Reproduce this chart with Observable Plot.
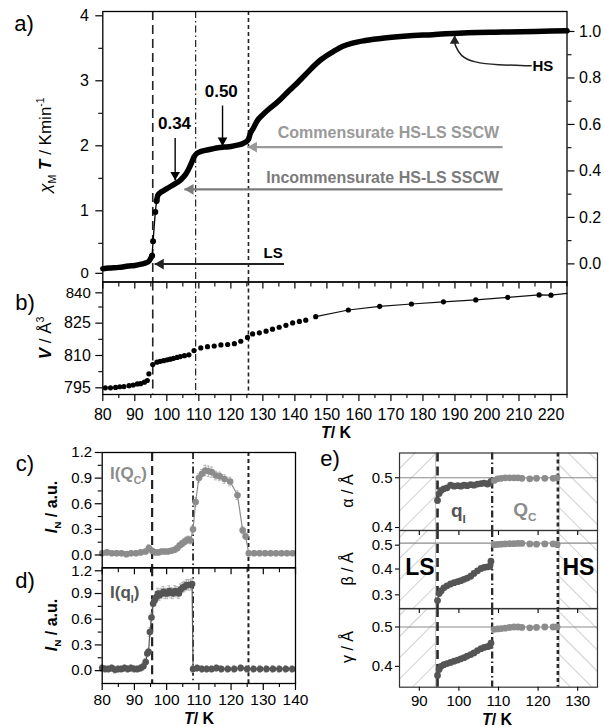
<!DOCTYPE html>
<html><head><meta charset="utf-8">
<script src="https://cdn.jsdelivr.net/npm/d3@7"></script>
<script src="https://cdn.jsdelivr.net/npm/@observablehq/plot@0.6"></script>
<style>
body{margin:0;background:#fff;}
#fig{position:relative;width:604px;height:727px;overflow:hidden;font-family:"Liberation Sans",Arial,sans-serif;}
#fig svg{position:absolute;overflow:visible;}
</style></head><body><div id="fig"></div>
<script>
// ================= DATA =================
// a) chi_M T vs T
const chiLowT = [80, 82, 85, 88, 90, 92, 93.5, 94.5, 95.4];
const chiLowV = [0.11, 0.12, 0.13, 0.15, 0.16, 0.18, 0.20, 0.23, 0.31];
const chiJumpT = [95.4, 95.7, 96.4, 96.8];
const chiJumpV = [0.31, 0.53, 0.98, 1.15];
const chiHighT = [96.8, 97.2, 98, 99, 100, 101, 102, 103, 104, 105, 106, 107, 107.8, 108.5, 109.3, 110.5, 112, 114, 116, 118, 120, 122, 123.5, 124.7, 125.5, 126, 127, 128.3, 130, 132, 134, 135.6, 138, 140, 141.8, 144, 146, 148, 150, 152, 155, 158, 162, 168, 175, 183, 194, 205, 215, 225];
const chiHighV = [1.15, 1.24, 1.28, 1.31, 1.34, 1.37, 1.40, 1.43, 1.46, 1.51, 1.57, 1.66, 1.75, 1.83, 1.88, 1.91, 1.93, 1.95, 1.97, 1.98, 1.99, 2.01, 2.03, 2.06, 2.10, 2.18, 2.27, 2.39, 2.48, 2.57, 2.65, 2.72, 2.84, 2.93, 3.02, 3.13, 3.23, 3.32, 3.39, 3.45, 3.53, 3.58, 3.62, 3.66, 3.69, 3.71, 3.74, 3.75, 3.76, 3.77];
const chiTicks = [1, 2, 3, 4];
const chiZero = [0];
const chiMinor = [0.5, 1.5, 2.5, 3.5];
const fracTicks = [0, 0.2, 0.4, 0.6, 0.8, 1.0];
const fracMinor = [0.1, 0.3, 0.5, 0.7, 0.9];

// annotations of a)
const arrowLabels = ["0.34", "0.50"];
const arrowLabelT = [102.4, 117.0];
const arrowLabelV = [2.34, 2.83];
const arrowT = [102.6, 117.4];
const arrowFromV = [2.12, 2.62];
const arrowTipV = [1.47, 2.0];
const sscwLabels = ["Commensurate HS-LS SSCW", "Incommensurate HS-LS SSCW"];
const sscwLabelEndT = [203.8, 203.8];
const sscwLabelV = [2.20, 1.50];
const sscwLineV = [1.98, 1.33];
const sscwStartT = [204.9, 204.9];
const sscwTipT = [125.3, 105.5];
const sscwColors = ["#999999", "#7b7b7b"];
const lsLabel = ["LS"], lsLabelT = [133.2], lsLabelV = [0.35];
const lsLineV = [0.18], lsStartT = [136.6], lsTipT = [96.2];
const hsLabel = ["HS"], hsLabelT = [214.2], hsLabelV = [3.22];
const hsPathT = [213.8, 203, 196, 191.6, 190.1];
const hsPathV = [3.23, 3.245, 3.28, 3.38, 3.55];
const hsTipT = [189.9], hsTipV = [3.69];

// transition temperatures (vertical lines)
const transAB = [95.6, 109.0, 125.5];
const transCD = [95.5, 108.2, 125.4];
const transE = [94.6, 108.4, 125.0];

// b) volume
const volT = [80.8, 82.4, 84.0, 85.3, 86.6, 88.2, 89.5, 90.8, 91.8, 93.0, 93.9, 94.4, 95.6, 96.9, 97.9, 99.0, 100.1, 101.1, 102.1, 103.2, 104.2, 105.5, 106.9, 108.5, 110.6, 112.7, 114.8, 116.9, 119.0, 121.1, 123.1, 125.2, 126.8, 128.9, 131.0, 133.0, 135.1, 137.2, 139.3, 141.4, 143.4, 146.5, 156.7, 166.5, 176.4, 186.4, 196.5, 206.5, 216.3, 220.0];
const volV = [795.0, 795.0, 795.2, 795.5, 795.6, 796.0, 796.3, 796.8, 796.9, 797.6, 798.4, 801.5, 805.8, 806.9, 807.3, 807.6, 808.0, 808.3, 808.7, 809.1, 809.5, 809.9, 810.3, 812.3, 813.5, 814.1, 814.4, 814.9, 815.1, 815.5, 816.6, 818.4, 820.0, 820.5, 821.3, 822.2, 823.1, 824.0, 825.1, 825.8, 826.4, 828.0, 831.1, 832.8, 833.9, 834.9, 835.8, 837.0, 838.1, 838.0];
const volLineT = [146.5, 156.7, 166.5, 176.4, 186.4, 196.5, 206.5, 216.3, 220.0, 225];
const volLineV = [828.0, 831.1, 832.8, 833.9, 834.9, 835.8, 837.0, 838.1, 838.0, 838.8];
const volTicks = [795, 810, 825];
const volTop = [840];
const volMinor = [802.5, 817.5, 832.5];
const tTicksAB = [80, 90, 100, 110, 120, 130, 140, 150, 160, 170, 180, 190, 200, 210, 220];
const tMinorAB = [85, 95, 105, 115, 125, 135, 145, 155, 165, 175, 185, 195, 205, 215, 225];

// c) I(Qc)
const cT = [80, 81.5, 83, 84.5, 86, 87.5, 89, 90.5, 92, 93.5, 94.5, 95.5, 96.5, 97.5, 98.5, 99.5, 100.5, 101.5, 102.5, 103.3, 104.0, 104.7, 105.4, 106.1, 106.8, 107.4, 108.2, 109.0, 110.0, 111.0, 112.0, 113.0, 114.0, 115.3, 116.5, 118.0, 119.7, 122.0, 123.6, 124.5, 125.5, 127.2, 128.9, 130.6, 132.3, 134.0, 135.7, 137.4, 139.1];
const cI = [0.02, 0.03, 0.02, 0.02, 0.02, 0.01, 0.02, 0.02, 0.03, 0.04, 0.08, 0.05, 0.03, 0.03, 0.04, 0.04, 0.04, 0.05, 0.06, 0.08, 0.11, 0.13, 0.15, 0.17, 0.18, 0.17, 0.30, 0.62, 0.90, 0.95, 0.99, 0.98, 0.97, 0.93, 0.92, 0.89, 0.86, 0.70, 0.29, 0.22, 0.02, 0.02, 0.02, 0.02, 0.02, 0.02, 0.02, 0.02, 0.02];
const cErr = [0.03, 0.03, 0.03, 0.03, 0.03, 0.03, 0.03, 0.03, 0.03, 0.03, 0.04, 0.03, 0.03, 0.03, 0.03, 0.03, 0.03, 0.03, 0.03, 0.03, 0.03, 0.04, 0.04, 0.04, 0.04, 0.04, 0.04, 0.05, 0.05, 0.05, 0.06, 0.06, 0.06, 0.05, 0.05, 0.05, 0.05, 0.05, 0.04, 0.04, 0.03, 0.03, 0.03, 0.03, 0.03, 0.03, 0.03, 0.03, 0.03];
// d) I(qI)
const dT = [80, 81, 82, 83, 84, 85, 86, 87, 88, 89, 90, 91, 92, 92.8, 93.5, 94.0, 94.4, 94.8, 95.3, 95.8, 96.3, 96.8, 97.3, 97.8, 98.4, 99.0, 99.6, 100.2, 100.8, 101.4, 102.0, 102.6, 103.2, 103.8, 104.4, 105.0, 105.6, 106.2, 106.8, 107.4, 107.9, 108.2, 109.5, 111.0, 112.5, 114.0, 115.5, 117.0, 119.0, 121.0, 123.0, 125.0, 127.0, 129.0, 131.0, 133.0, 135.0, 137.0, 139.0];
const dI = [0.03, 0.02, 0.02, 0.03, 0.01, 0.02, 0.02, 0.03, 0.02, 0.03, 0.02, 0.02, 0.03, 0.05, 0.10, 0.20, 0.22, 0.45, 0.62, 0.78, 0.82, 0.86, 0.90, 0.88, 0.90, 0.92, 0.90, 0.90, 0.93, 0.91, 0.90, 0.93, 0.92, 0.90, 0.95, 0.97, 0.98, 1.00, 1.00, 1.00, 1.01, 0.02, 0.03, 0.02, 0.02, 0.02, 0.03, 0.02, 0.02, 0.02, 0.03, 0.02, 0.02, 0.02, 0.02, 0.02, 0.02, 0.02, 0.02];
const dErr = [0.04, 0.04, 0.04, 0.04, 0.04, 0.04, 0.04, 0.04, 0.04, 0.04, 0.04, 0.04, 0.04, 0.04, 0.04, 0.04, 0.04, 0.05, 0.05, 0.05, 0.05, 0.06, 0.06, 0.06, 0.06, 0.06, 0.06, 0.06, 0.06, 0.06, 0.06, 0.06, 0.06, 0.06, 0.06, 0.06, 0.06, 0.06, 0.06, 0.06, 0.06, 0.04, 0.04, 0.04, 0.04, 0.04, 0.04, 0.04, 0.04, 0.04, 0.04, 0.04, 0.04, 0.04, 0.04, 0.04, 0.04, 0.04, 0.04];
const iTicks = [0, 0.3, 0.6, 0.9];
const iTop = [1.2];
const iMinor = [0.15, 0.45, 0.75, 1.05];
const tTicksCD = [80, 90, 100, 110, 120, 130, 140];
const tMinorCD = [85, 95, 105, 115, 125, 135];

// e) modulation components
const qT = [94.6, 95.0, 95.5, 96.2, 97.0, 97.9, 98.8, 99.7, 100.5, 101.3, 102.1, 103.0, 103.8, 104.7, 105.6, 106.4, 107.2, 107.8, 108.1];
const alphaQ = [0.457, 0.470, 0.476, 0.479, 0.481, 0.486, 0.484, 0.485, 0.484, 0.486, 0.485, 0.487, 0.486, 0.488, 0.489, 0.490, 0.488, 0.490, 0.493];
const betaQ = [0.278, 0.305, 0.315, 0.327, 0.335, 0.342, 0.347, 0.351, 0.355, 0.360, 0.365, 0.372, 0.383, 0.393, 0.402, 0.406, 0.408, 0.410, 0.430];
const gammaQ = [0.377, 0.392, 0.400, 0.404, 0.407, 0.410, 0.413, 0.416, 0.419, 0.422, 0.426, 0.430, 0.434, 0.440, 0.445, 0.448, 0.450, 0.452, 0.459];
const cTe = [108.9, 109.8, 110.7, 111.7, 112.8, 113.9, 114.9, 115.9, 117.9, 119.6, 121.7, 123.8, 124.8];
const alphaC = [0.495, 0.498, 0.499, 0.500, 0.500, 0.500, 0.500, 0.499, 0.498, 0.499, 0.499, 0.499, 0.500];
const betaC = [0.494, 0.495, 0.496, 0.497, 0.498, 0.498, 0.499, 0.499, 0.497, 0.496, 0.497, 0.497, 0.495];
const gammaC = [0.494, 0.495, 0.496, 0.497, 0.499, 0.500, 0.500, 0.499, 0.498, 0.499, 0.500, 0.500, 0.500];
const tTicksE = [90, 100, 110, 120, 130];
const hatchLeft = [85, 94.1], hatchRight = [125.3, 135];

// ================= RENDER =================
const font = '"Liberation Sans", Arial, sans-serif';
const baseStyle = {fontFamily: font, fontSize: "15px", background: "transparent", color: "#000", overflow: "visible"};
const fig = document.getElementById("fig");
function place(svg, left, top) { svg.style.left = left + "px"; svg.style.top = top + "px"; fig.appendChild(svg); return svg; }
const zip = (xs, ys, extra = {}) => xs.map((x, i) => { const o = {x, y: ys[i]}; for (const k in extra) o[k] = extra[k][i]; return o; });
const f1 = d3.format(".1f"), f0 = d3.format("d");

// hatch patterns
const defs = d3.select(fig).append("svg").attr("width", 0).attr("height", 0).style("left", 0).style("top", 0);
const pd = defs.append("defs");
[["hatchL", 45], ["hatchR", -45]].forEach(([id, a]) => {
  pd.append("pattern").attr("id", id).attr("patternUnits", "userSpaceOnUse").attr("width", 15).attr("height", 15)
    .attr("patternTransform", `rotate(${a})`)
    .append("line").attr("x1", 0).attr("y1", 0).attr("x2", 0).attr("y2", 15).attr("stroke", "#8a8a8a").attr("stroke-width", 0.8);
});

const dashStyles = [
  {strokeDasharray: "9,5"},
  {strokeDasharray: "7,3,1.5,3"},
  {strokeDasharray: "4,3"}
];
const vrules = (xs, w, col = "#222") => xs.map((x, i) => Plot.ruleX([x], {stroke: col, strokeWidth: w[i], ...dashStyles[i]}));

const yAx = (ticks, o = {}) => Plot.axisY({ticks, tickSize: 7, tickPadding: 6, label: null, fontSize: 16, strokeWidth: 1.2, ...o});
const minorY = (ticks, o = {}) => Plot.axisY({ticks, tickSize: 4, tickFormat: () => "", label: null, strokeWidth: 1.1, ...o});

// ---------- a) ----------
const chiLow = zip(chiLowT, chiLowV), chiHigh = zip(chiHighT, chiHighV), chiJump = zip(chiJumpT, chiJumpV);
const arrows = arrowT.map((t, i) => ({t, y1: arrowFromV[i], y2: arrowTipV[i], label: arrowLabels[i], lt: arrowLabelT[i], lv: arrowLabelV[i]}));
const sscw = sscwLabels.map((s, i) => ({s, te: sscwLabelEndT[i], ly: sscwLabelV[i], y: sscwLineV[i], t1: sscwStartT[i], t2: sscwTipT[i], c: sscwColors[i]}));
const A = Plot.plot({
  width: 604, height: 290, marginTop: 11, marginBottom: 8.5, marginLeft: 102.3, marginRight: 37.5,
  x: {domain: [80, 225], axis: null}, y: {domain: [-0.095, 4.066]},
  style: baseStyle,
  marks: [
    ...vrules(transAB, [1.6, 1.2, 1.6]),
    Plot.line(chiLow, {x: "x", y: "y", stroke: "#000", strokeWidth: 5.5, curve: "monotone-x"}),
    Plot.line(chiHigh, {x: "x", y: "y", stroke: "#000", strokeWidth: 5.5, curve: "monotone-x"}),
    Plot.line(chiJump, {x: "x", y: "y", stroke: "#000", strokeWidth: 1.3}),
    Plot.dot(chiJump, {x: "x", y: "y", r: 3, fill: "#000"}),
    // 0.34 / 0.50 arrows
    Plot.link(arrows, {x1: "t", x2: "t", y1: "y1", y2: "y2", stroke: "#000", strokeWidth: 1.4}),
    Plot.dot(arrows, {x: "t", y: "y2", symbol: "triangle", r: 3.6, fill: "#000", rotate: 180, dy: -5.5}),
    Plot.text(arrows, {x: "lt", y: "lv", text: "label", fontSize: 17, fontWeight: "bold"}),
    // SSCW arrows
    Plot.link(sscw, {x1: "t1", x2: "t2", y1: "y", y2: "y", stroke: "c", strokeWidth: 2.2}),
    Plot.dot(sscw, {x: "t2", y: "y", symbol: "triangle", r: 4, fill: "c", rotate: -90, dx: 6}),
    Plot.text(sscw, {x: "te", y: "ly", text: "s", fill: "c", textAnchor: "end", fontSize: 16, fontWeight: "bold"}),
    // LS arrow
    Plot.link(lsLabel, {x1: () => lsStartT[0], x2: () => lsTipT[0], y1: () => lsLineV[0], y2: () => lsLineV[0], stroke: "#222", strokeWidth: 2}),
    Plot.dot(lsLabel, {x: () => lsTipT[0], y: () => lsLineV[0], symbol: "triangle", r: 4, fill: "#222", rotate: -90, dx: 6}),
    Plot.text(lsLabel, {x: () => lsLabelT[0], y: () => lsLabelV[0], text: d => d, fontSize: 15, fontWeight: "bold"}),
    // HS arrow
    Plot.line(zip(hsPathT, hsPathV), {x: "x", y: "y", stroke: "#222", strokeWidth: 1.5, curve: "basis"}),
    Plot.link(hsLabel, {x1: () => hsPathT[4], x2: () => hsTipT[0], y1: () => hsPathV[4], y2: () => hsTipV[0], stroke: "#222", strokeWidth: 1.5}),
    Plot.dot(hsLabel, {x: () => hsTipT[0], y: () => hsTipV[0], symbol: "triangle", r: 3.6, fill: "#222", dy: 5}),
    Plot.text(hsLabel, {x: () => hsLabelT[0], y: () => hsLabelV[0], text: d => d, textAnchor: "start", fontSize: 15, fontWeight: "bold"}),
    Plot.frame({strokeWidth: 1.3}),
    yAx(chiTicks, {tickPadding: 7, tickFormat: f0}),
    yAx(chiZero, {tickPadding: 7, tickFormat: f0, fontSize: 15, dy: -2.5}),
    minorY(chiMinor)
  ]
});
place(A, 0, 0);
const A2 = Plot.plot({
  width: 604, height: 290, marginTop: 11, marginBottom: 8.5, marginLeft: 102.3, marginRight: 37.5,
  y: {domain: [-0.078, 1.086]}, style: baseStyle,
  marks: [
    yAx(fracTicks, {anchor: "right", tickFormat: f1, tickPadding: 5}),
    minorY(fracMinor, {anchor: "right"})
  ]
});
place(A2, 0, 0);

// ---------- b) ----------
const B = Plot.plot({
  width: 604, height: 170, marginTop: 11.5, marginBottom: 46, marginLeft: 102.3, marginRight: 37.5,
  x: {domain: [80, 225]}, y: {domain: [791.9, 844.1]}, style: baseStyle,
  marks: [
    ...vrules(transAB, [1.6, 1.2, 1.6]),
    Plot.line(zip(volLineT, volLineV), {x: "x", y: "y", stroke: "#111", strokeWidth: 1.2}),
    Plot.dot(zip(volT, volV), {x: "x", y: "y", r: 2.6, fill: "#000"}),
    Plot.frame({strokeWidth: 1.3}),
    yAx(volTicks, {tickPadding: 5, tickFormat: f0}),
    yAx(volTop, {tickPadding: 5, tickFormat: f0, fontSize: 15, dy: 2}),
    minorY(volMinor),
    Plot.axisX({ticks: tTicksAB, tickSize: 7, tickPadding: 7, label: null, fontSize: 16, strokeWidth: 1.2, tickFormat: f0}),
    Plot.axisX({ticks: tMinorAB, tickSize: 4, tickFormat: () => "", label: null, strokeWidth: 1.1}),
    Plot.axisX({anchor: "top", ticks: tTicksAB, tickSize: -6, tickFormat: () => "", label: null, strokeWidth: 1.2}),
    Plot.axisX({anchor: "top", ticks: tMinorAB, tickSize: -4, tickFormat: () => "", label: null, strokeWidth: 1.1})
  ]
});
place(B, 0, 270);

// ---------- c) & d) ----------
const cData = zip(cT, cI, {e: cErr}), dData = zip(dT, dI, {e: dErr});
const intensityPanel = (data, col, o) => Plot.plot({
  width: 300, height: o.height, marginTop: o.mt, marginBottom: o.mb, marginLeft: 101.7, marginRight: 5,
  x: {domain: [80, 140]}, y: {domain: [-0.15, 1.2]}, style: baseStyle,
  marks: [
    ...vrules(transCD, [2.2, 1.8, 2.0]),
    Plot.ruleX(data, {x: "x", y1: d => d.y - d.e, y2: d => d.y + d.e, stroke: "#b5b5b5", strokeWidth: 1}),
    Plot.ruleY(data, {y: d => d.y + d.e, x1: d => d.x - 0.45, x2: d => d.x + 0.45, stroke: "#b5b5b5", strokeWidth: 1}),
    Plot.ruleY(data, {y: d => d.y - d.e, x1: d => d.x - 0.45, x2: d => d.x + 0.45, stroke: "#b5b5b5", strokeWidth: 1}),
    Plot.line(data, {x: "x", y: "y", stroke: col, strokeWidth: 1.2}),
    Plot.dot(data, {x: "x", y: "y", r: 3.3, fill: col}),
    Plot.frame({strokeWidth: 1.3}),
    yAx(iTicks, {tickFormat: f1, tickPadding: 3, fontSize: 15, dy: o.zeroDy}),
    yAx(iTop, {tickFormat: f1, tickPadding: 3, fontSize: 15, dy: o.topDy}),
    minorY(iMinor),
    ...o.xaxes
  ]
});
const C = intensityPanel(cData, "#8c8c8c", {height: 127.3, mt: 12, mb: 0, zeroDy: 0, topDy: 0, xaxes: [
  Plot.axisX({ticks: tTicksCD, tickSize: 0, tickFormat: () => "", label: null})
]});
place(C, 0, 440);
const D = intensityPanel(dData, "#555555", {height: 160, mt: 0.3, mb: 44, zeroDy: 0, topDy: 3, xaxes: [
  Plot.axisX({ticks: tTicksCD, tickSize: 7, tickPadding: 3.5, label: null, fontSize: 15.5, strokeWidth: 1.2, tickFormat: f0}),
  Plot.axisX({ticks: tMinorCD, tickSize: 4, tickFormat: () => "", label: null, strokeWidth: 1.1}),
  Plot.axisX({anchor: "top", ticks: tTicksCD, tickSize: -6, tickFormat: () => "", label: null, strokeWidth: 1.2}),
  Plot.axisX({anchor: "top", ticks: tMinorCD, tickSize: -4, tickFormat: () => "", label: null, strokeWidth: 1.1})
]});
place(D, 0, 567.3);

// ---------- e) ----------
const ePanel = (qv, cv, dom, ticks, o) => Plot.plot({
  width: 304, height: o.height, marginTop: o.mt, marginBottom: o.mb, marginLeft: 99, marginRight: 7,
  x: {domain: [85, 135]}, y: {domain: dom}, style: baseStyle,
  marks: [
    Plot.rect([hatchLeft], {x1: d => d[0], x2: d => d[1], fill: "url(#hatchL)"}),
    Plot.rect([hatchRight], {x1: d => d[0], x2: d => d[1], fill: "url(#hatchR)"}),
    Plot.ruleX([hatchLeft[1], hatchRight[0]], {stroke: "#c4c4c4", strokeWidth: 1}),
    Plot.ruleY([0.5], {stroke: "#8a8a8a", strokeWidth: 1.1}),
    ...vrules(transE, [2.6, 2.3, 2.6], "#2a2a2a"),
    Plot.line(zip(qT, qv), {x: "x", y: "y", stroke: "#555", strokeWidth: 1}),
    Plot.dot(zip(qT, qv), {x: "x", y: "y", r: 3.4, fill: "#555"}),
    Plot.dot(zip(cTe, cv), {x: "x", y: "y", r: 3.4, fill: "#8c8c8c"}),
    Plot.frame({strokeWidth: 1.2, stroke: "#333"}),
    ...ticks.map((t, i) => Plot.axisY({ticks: [t], tickSize: 4, tickPadding: 3, tickFormat: f1, label: null, fontSize: 15, strokeWidth: 1.1, dy: o.labelDy[i]})),
    ...o.xaxes
  ]
});
const EA = ePanel(alphaQ, alphaC, [0.4, 0.547], [0.4, 0.5], {height: 90, mt: 12.5, mb: 0, labelDy: [-3, 0], xaxes: [
  Plot.axisX({ticks: tTicksE, tickSize: 0, tickFormat: () => "", label: null})]});
place(EA, 300, 440);
const EB = ePanel(betaQ, betaC, [0.246, 0.549], [0.3, 0.4, 0.5], {height: 78.3, mt: 0, mb: 0, labelDy: [0, 0, 2], xaxes: [
  Plot.axisX({anchor: "top", ticks: tTicksE, tickSize: -4, tickFormat: () => "", label: null, strokeWidth: 1.1})]});
place(EB, 300, 530);
const EG = ePanel(gammaQ, gammaC, [0.347, 0.547], [0.4, 0.5], {height: 118.7, mt: 0, mb: 40, labelDy: [0, 0], xaxes: [
  Plot.axisX({anchor: "top", ticks: tTicksE, tickSize: -4, tickFormat: () => "", label: null, strokeWidth: 1.1}),
  Plot.axisX({ticks: tTicksE, tickSize: 4, tickPadding: 4, label: null, fontSize: 15, strokeWidth: 1.1, tickFormat: f0})]});
place(EG, 300, 608.3);

// ---------- text overlay ----------
const ov = d3.select(fig).append("svg").attr("width", 604).attr("height", 727).style("left", 0).style("top", 0)
  .style("font-family", font).style("pointer-events", "none");
function rich(x, y, parts, {size = 16, anchor = "middle", rotate = 0, fill = "#000", weight = "normal"} = {}) {
  const t = ov.append("text").attr("text-anchor", anchor).attr("font-size", size).attr("fill", fill)
    .attr("font-weight", weight).attr("transform", `translate(${x},${y}) rotate(${rotate})`).attr("dy", "0.35em");
  let shift = 0;
  for (const p of parts) {
    const s = t.append("tspan").text(p.t);
    if (p.i) s.attr("font-style", "italic");
    if (p.b) s.attr("font-weight", "bold");
    let target = 0;
    if (p.sub) { target = size * 0.3; s.attr("font-size", size * 0.62); }
    if (p.sup) { target = -size * 0.4; s.attr("font-size", size * 0.62); }
    if (target !== shift) { s.attr("dy", target - shift); shift = target; }
  }
  return t;
}
// panel letters
rich(24, 23, [{t: "a)"}], {size: 22});
rich(25, 302, [{t: "b)"}], {size: 22});
rich(25, 463, [{t: "c)"}], {size: 22});
rich(25, 580, [{t: "d)"}], {size: 22});
rich(330, 458, [{t: "e)"}], {size: 22});
// axis titles
rich(45, 145, [{t: "χ", i: true}, {t: "M", sub: true}, {t: " "}, {t: "T", i: true, b: true}, {t: " / Kmin"}, {t: "-1", sup: true}], {size: 17, rotate: -90});
rich(45, 338, [{t: "V", i: true, b: true}, {t: " / Å"}, {t: "3", sup: true}], {size: 17, rotate: -90});
rich(336, 432, [{t: "T", i: true}, {t: "/ K"}], {size: 16, weight: "bold"});
rich(51, 507, [{t: "I", i: true}, {t: "N", sub: true}, {t: "  / a.u."}], {size: 16, rotate: -90, weight: "bold"});
rich(51, 625, [{t: "I", i: true}, {t: "N", sub: true}, {t: "  / a.u."}], {size: 16, rotate: -90, weight: "bold"});
rich(199, 718, [{t: "T", i: true}, {t: "/ K"}], {size: 16, weight: "bold"});
rich(497, 719.5, [{t: "T", i: true}, {t: "/ K"}], {size: 16, weight: "bold"});
rich(347, 491, [{t: "α / Å"}], {size: 16, rotate: -90});
rich(347, 569, [{t: "β / Å"}], {size: 16, rotate: -90});
rich(347, 647, [{t: "γ / Å"}], {size: 16, rotate: -90});
// in-panel labels, positioned through each panel's scales
const sx = (P, v, left) => P.scale("x").apply(v) + left;
const sy = (P, v, top) => P.scale("y").apply(v) + top;
rich(sx(C, 82.6, 0), sy(C, 0.95, 440), [{t: "I(Q"}, {t: "C", sub: true}, {t: ")"}], {size: 17, anchor: "start", fill: "#8c8c8c", weight: "bold"});
rich(sx(D, 82.6, 0), sy(D, 0.92, 567.3), [{t: "I(q"}, {t: "I", sub: true}, {t: ")"}], {size: 17, anchor: "start", fill: "#555", weight: "bold"});
rich(sx(EA, 100, 300), sy(EA, 0.437, 440), [{t: "q"}, {t: "I", sub: true}], {size: 19, fill: "#555", weight: "bold"});
rich(sx(EA, 116.8, 300), sy(EA, 0.44, 440), [{t: "Q"}, {t: "C", sub: true}], {size: 19, fill: "#8c8c8c", weight: "bold"});
rich(sx(EB, 90.3, 300), sy(EB, 0.407, 530), [{t: "LS"}], {size: 23, weight: "bold"});
rich(sx(EB, 130.3, 300), sy(EB, 0.407, 530), [{t: "HS"}], {size: 23, weight: "bold"});
</script></body></html>
